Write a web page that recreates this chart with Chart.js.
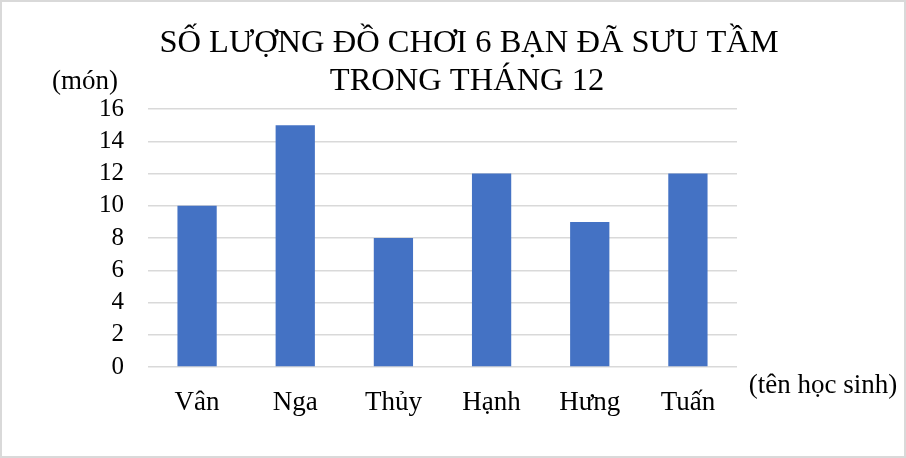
<!DOCTYPE html>
<html>
<head>
<meta charset="utf-8">
<script src="https://cdn.jsdelivr.net/npm/chart.js@4"></script>
<style>
html,body{margin:0;padding:0;background:#fff;}
#wrap{width:906px;height:458px;position:relative;}
</style>
</head>
<body>
<div id="wrap"><canvas id="c" width="906" height="458"></canvas></div>
<script>
const categories = ["Vân", "Nga", "Thủy", "Hạnh", "Hưng", "Tuấn"];
const values = [10, 15, 8, 12, 9, 12];
const yTicks = [0, 2, 4, 6, 8, 10, 12, 14, 16];
const titleLines = ["SỐ LƯỢNG ĐỒ CHƠI 6 BẠN ĐÃ SƯU TẦM", "TRONG THÁNG 12"];
const yAxisLabel = "(món)";
const xAxisLabel = "(tên học sinh)";

const FONT = "'Liberation Serif', 'Times New Roman', serif";

const textPlugin = {
  id: 'textPlugin',
  beforeDraw(chart) {
    const ctx = chart.ctx;
    ctx.save();
    ctx.fillStyle = '#ffffff';
    ctx.fillRect(0, 0, chart.width, chart.height);
    ctx.restore();
  },
  afterDraw(chart) {
    const ctx = chart.ctx;
    ctx.save();
    ctx.fillStyle = '#000000';
    ctx.textBaseline = 'alphabetic';
    ctx.textAlign = 'center';
    ctx.font = "32.5px " + FONT;
    ctx.fillText(titleLines[0], 469, 52);
    ctx.fillText(titleLines[1], 467, 90);
    ctx.font = "27px " + FONT;
    ctx.fillText(yAxisLabel, 85, 89);
    ctx.fillText(xAxisLabel, 823, 393);
    ctx.strokeStyle = '#d9d9d9';
    ctx.lineWidth = 2;
    ctx.strokeRect(1, 1, chart.width - 2, chart.height - 2);
    ctx.restore();
  }
};

new Chart(document.getElementById('c'), {
  type: 'bar',
  data: {
    labels: categories,
    datasets: [{
      data: values,
      backgroundColor: '#4472C4',
      borderWidth: 0,
      categoryPercentage: 0.8,
      barPercentage: 0.5
    }]
  },
  options: {
    responsive: false,
    animation: false,
    devicePixelRatio: 1,
    layout: { padding: { left: 0, right: 169, top: 109, bottom: 31 } },
    plugins: { legend: { display: false }, title: { display: false }, tooltip: { enabled: false } },
    scales: {
      x: {
        grid: { display: false },
        border: { display: false },
        ticks: { color: '#000', font: { family: FONT, size: 27 }, padding: 12, maxRotation: 0, autoSkip: false },
        afterFit(s) { s.height = 60; }
      },
      y: {
        min: 0, max: 16,
        afterBuildTicks(s) { s.ticks = yTicks.map(v => ({ value: v })); },
        grid: { color: '#d9d9d9', lineWidth: 1.5, drawTicks: false },
        border: { display: false },
        ticks: { color: '#000', font: { family: FONT, size: 25 }, padding: 24, autoSkip: false },
        afterFit(s) { s.width = 148; }
      }
    }
  },
  plugins: [textPlugin]
});
</script>
</body>
</html>
